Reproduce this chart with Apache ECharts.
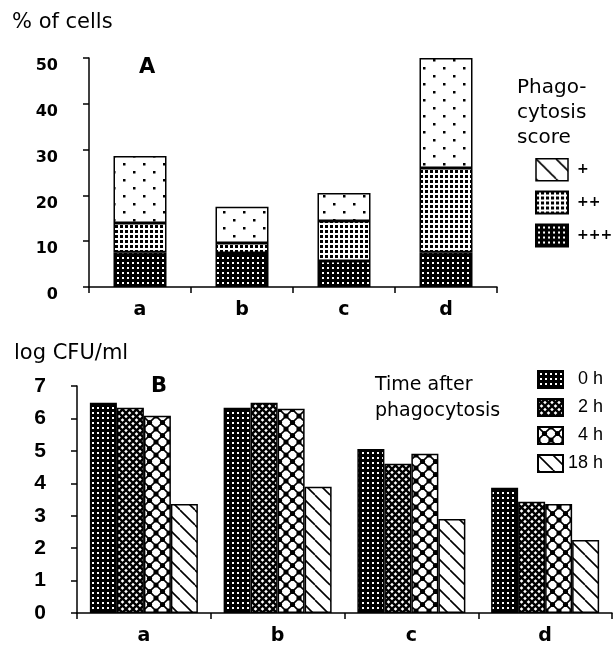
<!DOCTYPE html>
<html>
<head>
<meta charset="utf-8">
<script src="https://cdn.jsdelivr.net/npm/echarts@6/dist/echarts.min.js"></script>
<style>html,body{margin:0;padding:0;background:#fff}#c{width:614px;height:647px}</style>
</head>
<body>
<div id="c"></div>
<script>
// ---- Data ----
var groupsA = ['a', 'b', 'c', 'd'];
var scoreNames = ['+++', '++', '+'];
var scoreTriple = [7.6, 7.4, 5.7, 7.6];   // +++
var scoreDouble = [6.4, 2.2, 8.7, 18.4];  // ++
var scoreSingle = [14.6, 7.9, 6.1, 24.0]; // +
var yTicksA = [0, 10, 20, 30, 40, 50];

var groupsB = ['a', 'b', 'c', 'd'];
var timeNames = ['0 h', '2 h', '4 h', '18 h'];
var cfu0h = [6.48, 6.33, 5.06, 3.86];
var cfu2h = [6.33, 6.48, 4.60, 3.43];
var cfu4h = [6.08, 6.30, 4.91, 3.36];
var cfu18h = [3.36, 3.89, 2.90, 2.25];
var yTicksB = [0, 1, 2, 3, 4, 5, 6, 7];

// ---- Patterns ----
function pat(w, h, draw) {
  var c = document.createElement('canvas');
  c.width = w; c.height = h;
  var ctx = c.getContext('2d');
  draw(ctx, w, h);
  return { image: c, repeat: 'repeat' };
}
var pDarkDots = pat(5, 5, function (x) {
  x.fillStyle = '#000'; x.fillRect(0, 0, 5, 5);
  x.fillStyle = '#fff'; x.fillRect(2, 2, 2, 2);
});
var pMedDots = pat(5, 5, function (x) {
  x.fillStyle = '#fff'; x.fillRect(0, 0, 5, 5);
  x.fillStyle = '#000'; x.fillRect(0, 0, 3, 3);
});
var pSparse = pat(20, 16, function (x) {
  x.fillStyle = '#fff'; x.fillRect(0, 0, 20, 16);
  x.fillStyle = '#000'; x.fillRect(3, 3, 2.5, 2.5); x.fillRect(13, 11, 2.5, 2.5);
});
function diagLines(x, s, dirs, lw) {
  x.strokeStyle = '#000'; x.lineWidth = lw;
  for (var k = -1; k <= 1; k++) {
    if (dirs.indexOf('\\') >= 0) { x.beginPath(); x.moveTo(k * s, 0); x.lineTo(k * s + s, s); x.stroke(); }
    if (dirs.indexOf('/') >= 0) { x.beginPath(); x.moveTo(k * s + s, 0); x.lineTo(k * s, s); x.stroke(); }
  }
}
var pFineCross = pat(7, 7, function (x) {
  x.fillStyle = '#fff'; x.fillRect(0, 0, 7, 7);
  diagLines(x, 7, '\\/', 2.4);
});
var pBigCross = pat(13, 13, function (x) {
  x.fillStyle = '#fff'; x.fillRect(0, 0, 13, 13);
  diagLines(x, 13, '\\/', 1.6);
  x.fillStyle = '#000';
  [[6.5, 6.5], [0, 0], [13, 0], [0, 13], [13, 13]].forEach(function (p) {
    x.beginPath(); x.arc(p[0], p[1], 2.6, 0, Math.PI * 2); x.fill();
  });
});
var pHatch = pat(15, 15, function (x) {
  x.fillStyle = '#fff'; x.fillRect(0, 0, 15, 15);
  diagLines(x, 15, '\\', 1.6);
});
var pHatchWide = pat(20, 20, function (x) {
  x.fillStyle = '#fff'; x.fillRect(0, 0, 20, 20);
  diagLines(x, 20, '\\', 1.6);
});

var FONT = 'Liberation Sans, Arial, sans-serif';
var DFONT = 'DejaVu Sans, Liberation Sans, sans-serif';
var border = { borderColor: '#000', borderWidth: 1.5 };
function style(p) { return Object.assign({ color: p }, border); }

var chart = echarts.init(document.getElementById('c'), null, { renderer: 'canvas' });

var axisLine = { show: true, lineStyle: { color: '#000', width: 1.5 } };
var axisTick = { show: true, length: 6, lineStyle: { color: '#000', width: 1.5 } };

var option = {
  animation: false,
  backgroundColor: '#fff',
  textStyle: { fontFamily: FONT, color: '#000' },
  grid: [
    { left: 89, top: 58, right: 117, bottom: 360, containLabel: false },
    { left: 77, top: 386, right: 2, bottom: 34, containLabel: false }
  ],
  xAxis: [
    { gridIndex: 0, type: 'category', data: groupsA, axisLine: axisLine, axisTick: axisTick,
      axisLabel: { margin: 14, fontSize: 19, fontWeight: 'bold', color: '#000', fontFamily: DFONT } },
    { gridIndex: 1, type: 'category', data: groupsB, axisLine: axisLine, axisTick: axisTick,
      axisLabel: { margin: 14, fontSize: 19, fontWeight: 'bold', color: '#000', fontFamily: DFONT } }
  ],
  yAxis: [
    { gridIndex: 0, type: 'value', min: yTicksA[0], max: yTicksA[yTicksA.length - 1], interval: 10,
      axisLine: axisLine, axisTick: axisTick, splitLine: { show: false },
      axisLabel: { margin: 31, fontSize: 16, fontWeight: 'bold', color: '#000', fontFamily: DFONT, verticalAlign: 'top' } },
    { gridIndex: 1, type: 'value', min: yTicksB[0], max: yTicksB[yTicksB.length - 1], interval: 1,
      axisLine: axisLine, axisTick: axisTick, splitLine: { show: false },
      axisLabel: { margin: 31, fontSize: 21, fontWeight: 'bold', color: '#000', fontFamily: FONT } }
  ],
  legend: [
    { left: 535, top: 158, padding: 0, orient: 'vertical', itemWidth: 32, itemHeight: 22, itemGap: 9,
      icon: 'rect', selectedMode: false,
      textStyle: { fontSize: 14, fontWeight: 'bold', color: '#000', fontFamily: DFONT, padding: [6, 0, 0, 4] },
      data: [
        { name: '+', itemStyle: style(pHatchWide) },
        { name: '++' },
        { name: '+++' }
      ] },
    { left: 537, top: 370, padding: 0, orient: 'vertical', itemWidth: 25, itemHeight: 17, itemGap: 9,
      icon: 'rect', selectedMode: false,
      formatter: function (n) { return n.length < 4 ? '  ' + n : n; },
      textStyle: { fontSize: 18, color: '#000', fontFamily: FONT },
      data: timeNames }
  ],
  title: [
    { text: '% of cells', left: 12, top: 12, padding: 0, textStyle: { fontSize: 21, fontWeight: 'normal', fontFamily: DFONT, color: '#000' } },
    { text: 'A', left: 139, top: 57, padding: 0, textStyle: { fontSize: 21, fontWeight: 'bold', fontFamily: DFONT, color: '#000' } },
    { text: 'log CFU/ml', left: 14, top: 343, padding: 0, textStyle: { fontSize: 21, fontWeight: 'normal', fontFamily: DFONT, color: '#000' } },
    { text: 'B', left: 151, top: 376, padding: 0, textStyle: { fontSize: 21, fontWeight: 'bold', fontFamily: DFONT, color: '#000' } }
  ],
  graphic: [
    { type: 'text', left: 517, top: 75, style: { text: 'Phago-\ncytosis\nscore', font: '20px ' + DFONT, lineHeight: 25, fill: '#000' } },
    { type: 'text', left: 375, top: 372, style: { text: 'Time after\nphagocytosis', font: '19px ' + DFONT, lineHeight: 26, fill: '#000' } }
  ],
  series: [
    { name: '+++', type: 'bar', stack: 'A', xAxisIndex: 0, yAxisIndex: 0, barWidth: 53, data: scoreTriple, itemStyle: style(pDarkDots) },
    { name: '++', type: 'bar', stack: 'A', xAxisIndex: 0, yAxisIndex: 0, barWidth: 53, data: scoreDouble, itemStyle: style(pMedDots) },
    { name: '+', type: 'bar', stack: 'A', xAxisIndex: 0, yAxisIndex: 0, barWidth: 53, data: scoreSingle, itemStyle: style(pSparse) },
    { name: timeNames[0], type: 'bar', xAxisIndex: 1, yAxisIndex: 1, barWidth: 27, barGap: '0%', data: cfu0h, itemStyle: style(pDarkDots) },
    { name: timeNames[1], type: 'bar', xAxisIndex: 1, yAxisIndex: 1, barWidth: 27, barGap: '0%', data: cfu2h, itemStyle: style(pFineCross) },
    { name: timeNames[2], type: 'bar', xAxisIndex: 1, yAxisIndex: 1, barWidth: 27, barGap: '0%', data: cfu4h, itemStyle: style(pBigCross) },
    { name: timeNames[3], type: 'bar', xAxisIndex: 1, yAxisIndex: 1, barWidth: 27, barGap: '0%', data: cfu18h, itemStyle: style(pHatch) }
  ]
};
chart.setOption(option);
</script>
</body>
</html>
